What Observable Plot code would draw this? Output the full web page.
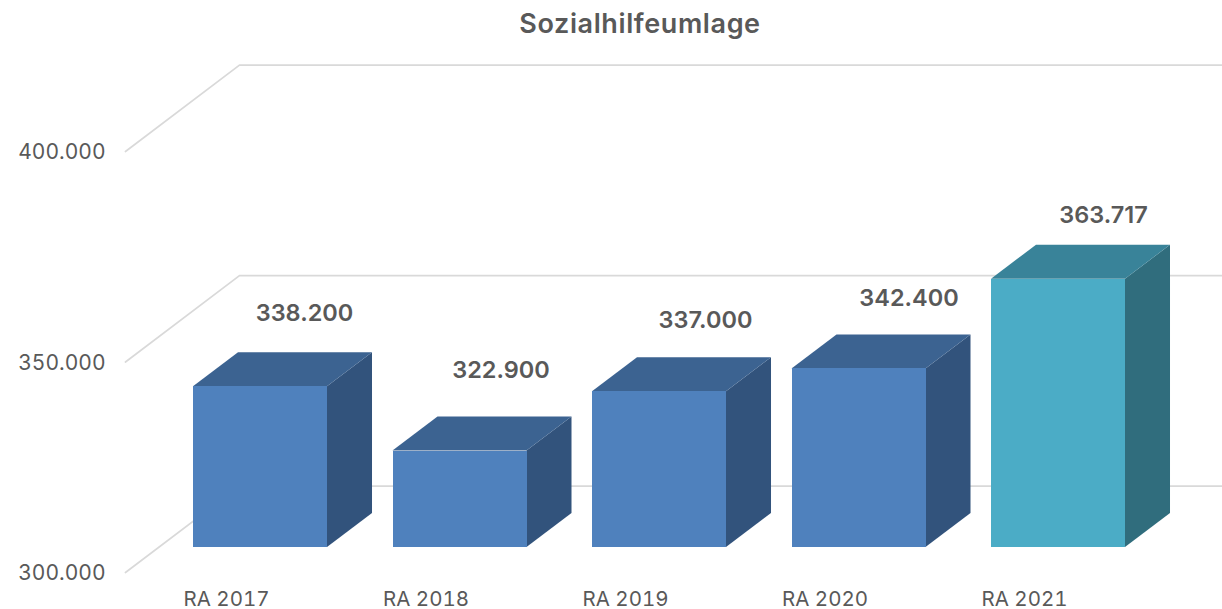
<!DOCTYPE html>
<html>
<head>
<meta charset="utf-8">
<script src="https://cdn.jsdelivr.net/npm/d3@7"></script>
<script src="https://cdn.jsdelivr.net/npm/@observablehq/plot@0.6"></script>
<style>
html,body{margin:0;padding:0;background:#fff;overflow:hidden}
#title{height:46px;width:1222px;box-sizing:border-box;padding-left:58px;text-align:center;font:600 27px/48px Inter,sans-serif;letter-spacing:.6px;color:#595959}
svg{display:block}
</style>
</head>
<body>
<div id="title">Sozialhilfeumlage</div>
<script>
const categories = ["RA 2017","RA 2018","RA 2019","RA 2020","RA 2021"];
const values = [338.2,322.9,337.0,342.4,363.717];
const valueLabels = ["338.200","322.900","337.000","342.400","363.717"];
const gridValues = [300,350,400];
const tickLabels = ["300.000","350.000","400.000"];
const labelNudge = [[44,-73],[41,-81],[46,-71],[50,-71],[45,-64]];
const frontColors = ["#4f81bd","#4f81bd","#4f81bd","#4f81bd","#4bacc6"];
const topColors = ["#3c6391","#3c6391","#3c6391","#3c6391","#398399"];
const sideColors = ["#32537c","#32537c","#32537c","#32537c","#306d7d"];

// oblique projection, in scale units
const wallDx = 0.5714, wallDy = 20.5;
const frontOffset = 5.94;
const barW = 0.6717, depthX = 0.2256, depthY = 8.08;
const rightEnd = 5.16;

const bars = values.map((v,i)=>({i,v,base:300+frontOffset,top:v+frontOffset,
  front:frontColors[i],topc:topColors[i],side:sideColors[i]}));

const gridMarks = gridValues.map(g=>Plot.line(
  [{x:-0.341,y:g},{x:-0.341+wallDx,y:g+wallDy},{x:rightEnd,y:g+wallDy}],
  {x:"x",y:"y",stroke:"#d9d9d9",strokeWidth:1.7}));

const barMarks = bars.flatMap(b=>[
  Plot.areaY([
    {x:b.i+barW,lo:b.base,hi:b.top},
    {x:b.i+barW+depthX,lo:b.base+depthY,hi:b.top+depthY}
  ],{x:"x",y1:"lo",y2:"hi",fill:b.side}),
  Plot.areaX([
    {y:b.top,l:b.i,r:b.i+barW},
    {y:b.top+depthY,l:b.i+depthX,r:b.i+barW+depthX}
  ],{y:"y",x1:"l",x2:"r",fill:b.topc}),
  Plot.rect([b],{x1:d=>d.i,x2:d=>d.i+barW,y1:"base",y2:"top",fill:b.front,inset:0,shapeRendering:"crispEdges"})
]);

const labelMarks = bars.map((b,k)=>Plot.text([b],{
  x:d=>d.i+barW/2,y:"top",text:()=>valueLabels[k],
  dx:labelNudge[k][0],dy:labelNudge[k][1],
  fontWeight:600,fontSize:23.5,fill:"#595959"}));

const chart = Plot.plot({
  width:1222,height:563,
  marginLeft:125,marginRight:0,marginTop:0,marginBottom:18,
  style:{fontFamily:"Inter,sans-serif",background:"#fff",overflow:"visible"},
  x:{type:"linear",domain:[0,4],range:[193,991],label:null},
  y:{type:"linear",domain:[300,400],range:[526,105],label:null},
  marks:[
    ...gridMarks,
    ...barMarks,
    ...labelMarks,
    Plot.axisY({ticks:gridValues,tickSize:0,tickPadding:20,dy:1,
      tickFormat:d=>tickLabels[gridValues.indexOf(d)],
      fontSize:21,fill:"#595959",label:null}),
    Plot.axisX({ticks:[0,1,2,3,4],tickSize:0,tickPadding:0,
      tickFormat:d=>categories[d],dx:33,
      fontSize:20.5,fill:"#595959",label:null,anchor:"bottom"})
  ]
});
document.body.appendChild(chart);
</script>
</body>
</html>
